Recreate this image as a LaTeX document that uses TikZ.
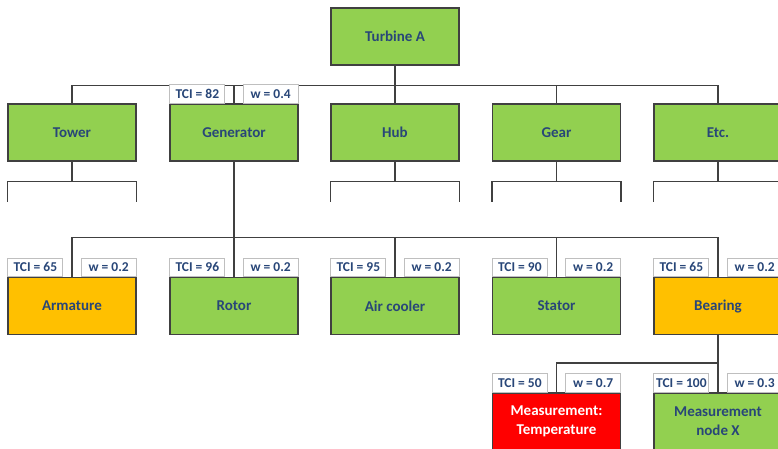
\documentclass[tikz,border=0pt]{standalone}
\usepackage{fontspec}
\setmainfont{Carlito}
\usepackage{xcolor}
\usetikzlibrary{positioning}

\definecolor{okgreen}{RGB}{146,208,80}
\definecolor{warnorange}{RGB}{255,192,0}
\definecolor{faultred}{RGB}{255,0,0}
\definecolor{textblue}{RGB}{40,70,120}
\definecolor{linegray}{RGB}{64,64,64}

\tikzset{
  comp/.style={draw=linegray, line width=1.1pt, fill=okgreen, minimum width=128pt, minimum height=57pt,
    inner sep=1pt, align=center, text=textblue, font=\fontsize{15}{19}\selectfont\bfseries},
  warn/.style={comp, fill=warnorange},
  fault/.style={comp, fill=faultred, text=white},
  tag/.style={draw=black!25, line width=0.8pt, fill=white, minimum width=55pt, minimum height=18.5pt,
    inner sep=0pt, text=textblue, font=\fontsize{13.5}{15}\selectfont\bfseries},
  link/.style={draw=linegray, line width=1.3pt},
}

\begin{document}
\begin{tikzpicture}[x=1pt, y=-1pt]
	\clip (0,0) rectangle (778,448);
	% top level
	\node[comp] (turbine) at (395,36.5) {Turbine A};
	% subsystems
	\node[comp] (tower) at (72,132.5) {Tower};
	\node[comp] (gen) at (234,132.5) {Generator};
	\node[comp] (hub) at (395,132.5) {Hub};
	\node[comp] (gear) at (556.5,132.5) {Gear};
	\node[comp] (etc) at (718,132.5) {Etc.};
	% generator components
	\node[warn] (arm) at (72,306) {Armature};
	\node[comp] (rotor) at (234,306) {Rotor};
	\node[comp] (cooler) at (395,306) {Air cooler};
	\node[comp] (stator) at (556.5,306) {Stator};
	\node[warn] (bear) at (718,306) {Bearing};
	% bearing measurements
	\node[fault] (temp) at (556.5,421.5) {Measurement:\\Temperature};
	\node[comp] (meas) at (718,421.5) {Measurement\\node X};

	% bus coordinates
	\coordinate (bus1) at ([yshift=-20pt]turbine.south);
	\coordinate (bus2) at ([yshift=-76pt]gen.south);
	\coordinate (bus3) at ([yshift=-28pt]bear.south);

	% connectors
	\draw[link] (turbine) -- (bus1);
	\foreach \n in {tower,gen,hub,gear,etc}
		\draw[link] (\n.north) |- (bus1);
	\draw[link] (gen) -- (bus2);
	\foreach \n in {arm,rotor,cooler,stator,bear}
		\draw[link] (\n.north) |- (bus2);
	\draw[link] (bear) -- (bus3);
	\foreach \n in {temp,meas}
		\draw[link] (\n.north) |- (bus3);

	% collapsed children
	\foreach \n in {tower,hub,gear,etc} {
		\draw[link] (\n.south) -- ++(0,20);
		\draw[link] ([yshift=-40pt]\n.south west) |- ([yshift=-20pt]\n.south) -| ([yshift=-40pt]\n.south east);
	}

	% TCI and weight tags
	\foreach \n/\tci/\w in {gen/82/0.4, arm/65/0.2, rotor/96/0.2, cooler/95/0.2, stator/90/0.2,
		bear/65/0.2, temp/50/0.7, meas/100/0.3} {
		\node[tag, anchor=south west] (\n-tci) at (\n.north west) {TCI = \tci};
		\node[tag, anchor=south east] (\n-w) at (\n.north east) {w = \w};
	}
\end{tikzpicture}
\end{document}
